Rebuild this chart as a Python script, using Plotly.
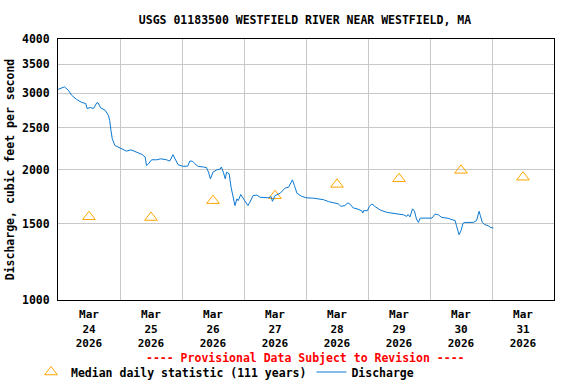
import plotly.graph_objects as go

# Discharge (cfs), 15-min-ish samples
times = [
    "2026-03-24 00:00", "2026-03-24 02:30", "2026-03-24 04:00", "2026-03-24 05:15", "2026-03-24 07:15",
    "2026-03-24 09:15", "2026-03-24 10:45", "2026-03-24 11:15", "2026-03-24 12:30", "2026-03-24 13:45",
    "2026-03-24 15:00", "2026-03-24 15:30", "2026-03-24 16:30", "2026-03-24 18:15", "2026-03-24 19:30",
    "2026-03-24 20:00", "2026-03-24 20:30", "2026-03-24 21:00", "2026-03-24 22:00", "2026-03-24 23:15",
    "2026-03-25 00:45", "2026-03-25 02:30", "2026-03-25 04:15", "2026-03-25 06:30", "2026-03-25 08:30",
    "2026-03-25 09:45", "2026-03-25 10:15", "2026-03-25 11:00", "2026-03-25 12:15", "2026-03-25 14:15",
    "2026-03-25 15:45", "2026-03-25 18:00", "2026-03-25 19:15", "2026-03-25 20:30", "2026-03-25 21:30",
    "2026-03-25 22:30", "2026-03-26 00:30", "2026-03-26 02:15", "2026-03-26 03:00", "2026-03-26 04:00",
    "2026-03-26 05:00", "2026-03-26 06:15", "2026-03-26 08:15", "2026-03-26 09:30", "2026-03-26 10:15",
    "2026-03-26 11:00", "2026-03-26 12:00", "2026-03-26 13:30", "2026-03-26 14:45", "2026-03-26 15:15",
    "2026-03-26 16:00", "2026-03-26 16:45", "2026-03-26 17:15", "2026-03-26 18:15", "2026-03-26 19:00",
    "2026-03-26 19:45", "2026-03-26 20:30", "2026-03-26 21:15", "2026-03-26 21:45", "2026-03-26 22:45",
    "2026-03-26 23:45", "2026-03-27 01:30", "2026-03-27 02:15", "2026-03-27 03:30", "2026-03-27 05:00",
    "2026-03-27 06:15", "2026-03-27 09:30", "2026-03-27 10:30", "2026-03-27 11:00", "2026-03-27 12:00",
    "2026-03-27 14:00", "2026-03-27 16:00", "2026-03-27 17:15", "2026-03-27 18:45", "2026-03-27 19:30",
    "2026-03-27 20:30", "2026-03-27 22:15", "2026-03-28 00:15", "2026-03-28 02:45", "2026-03-28 06:45",
    "2026-03-28 08:45", "2026-03-28 12:30", "2026-03-28 13:30", "2026-03-28 15:00", "2026-03-28 16:15",
    "2026-03-28 17:15", "2026-03-28 18:15", "2026-03-28 19:45", "2026-03-28 21:30", "2026-03-28 22:00",
    "2026-03-28 22:15", "2026-03-28 23:45", "2026-03-29 00:30", "2026-03-29 01:30", "2026-03-29 02:45",
    "2026-03-29 04:45", "2026-03-29 07:15", "2026-03-29 11:00", "2026-03-29 13:45", "2026-03-29 15:00",
    "2026-03-29 15:30", "2026-03-29 16:15", "2026-03-29 17:15", "2026-03-29 18:00", "2026-03-29 18:45",
    "2026-03-29 19:30", "2026-03-29 20:15", "2026-03-30 00:45", "2026-03-30 02:00", "2026-03-30 03:15",
    "2026-03-30 04:30", "2026-03-30 07:00", "2026-03-30 09:45", "2026-03-30 10:15", "2026-03-30 11:15",
    "2026-03-30 12:00", "2026-03-30 12:45", "2026-03-30 13:30", "2026-03-30 16:45", "2026-03-30 18:00",
    "2026-03-30 18:30", "2026-03-30 19:00", "2026-03-30 19:30", "2026-03-30 20:15", "2026-03-30 21:15",
    "2026-03-30 22:30", "2026-03-30 23:30", "2026-03-31 00:30",
]
discharge = [
    3060, 3102, 3047, 2968, 2900,
    2855, 2840, 2765, 2780, 2765,
    2850, 2850, 2775, 2740, 2668,
    2597, 2462, 2356, 2273, 2253,
    2225, 2205, 2220, 2193, 2167,
    2136, 2043, 2060, 2106, 2106,
    2117, 2106, 2091, 2163, 2098,
    2051, 2033, 2037, 2091, 2091,
    2062, 2033, 2027, 2020, 1972,
    1903, 1972, 1997, 2004, 2027,
    1972, 1903, 1972, 1955, 1820,
    1741, 1651, 1711, 1695, 1751,
    1711, 1651, 1680, 1741, 1746,
    1726, 1721, 1731, 1689, 1741,
    1763, 1814, 1820, 1893, 1837,
    1763, 1735, 1720, 1718, 1704,
    1686, 1666, 1645, 1651, 1675,
    1660, 1631, 1623, 1607, 1587,
    1607, 1607, 1642, 1666, 1642,
    1613, 1593, 1579, 1572, 1559,
    1575, 1555, 1623, 1602, 1538,
    1510, 1545, 1545, 1579, 1572,
    1551, 1543, 1524, 1484, 1414,
    1445, 1502, 1510, 1510, 1524,
    1565, 1602, 1565, 1510, 1492,
    1484, 1470, 1466,
]

# Median daily statistic (111 years)
median_days = ["2026-03-24 12:00", "2026-03-25 12:00", "2026-03-26 12:00", "2026-03-27 12:00",
               "2026-03-28 12:00", "2026-03-29 12:00", "2026-03-30 12:00", "2026-03-31 12:00"]
median_vals = [1556, 1550, 1695, 1740, 1848, 1904, 1991, 1920]

y_ticks = [1000, 1500, 2000, 2500, 3000, 3500, 4000]

FONT = "DejaVu Sans Mono"

fig = go.Figure()
fig.add_trace(go.Scatter(
    x=median_days, y=median_vals, mode="markers", name="Median daily statistic (111 years)",
    marker=dict(symbol="triangle-up-open", size=11, color="#FFA500", line=dict(width=1, color="#FFA500")),
))
fig.add_trace(go.Scatter(
    x=times, y=discharge, mode="lines", name="Discharge",
    line=dict(color="#0A78D2", width=1),
))

fig.update_layout(
    width=576, height=384,
    margin=dict(l=58, r=22, t=39, b=84),
    paper_bgcolor="white", plot_bgcolor="white",
    font=dict(family=FONT, size=11.5, color="black", weight="bold"),
    title=dict(text="USGS 01183500 WESTFIELD RIVER NEAR WESTFIELD, MA",
               x=305 / 576, xanchor="center", y=1 - 20 / 384, yanchor="middle", yref="container",
               font=dict(family=FONT, size=11.5, weight="bold")),
    showlegend=True,
    legend=dict(orientation="h", xref="container", yref="container",
                x=31 / 576, y=1 - 372 / 384, xanchor="left", yanchor="middle",
                itemwidth=30, font=dict(family=FONT, size=11.5, weight="bold"),
                bgcolor="rgba(0,0,0,0)", traceorder="normal"),
    annotations=[dict(text="---- Provisional Data Subject to Revision ----",
                      xref="paper", yref="paper", x=0.5 - 1 / 496, y=-(358 - 300) / 261,
                      xanchor="center", yanchor="middle", showarrow=False,
                      font=dict(family=FONT, size=11.5, color="#FF0000", weight="bold"))],
)

fig.update_xaxes(
    type="date", range=["2026-03-24 00:00", "2026-04-01 00:00"],
    dtick=86400000, tick0="2026-03-24", ticklabelmode="period",
    tickformat="%b<br>%d<br>%Y", ticks="", ticklabelstandoff=4, automargin=False,
    showgrid=True, gridcolor="#C8C8C8", gridwidth=1,
    showline=True, linecolor="black", linewidth=1, mirror=True, zeroline=False,
    tickfont=dict(family=FONT, size=11, weight="bold"),
)
fig.update_yaxes(
    type="log", range=[3, 3.60206], autorange=False,
    tickvals=y_ticks, ticktext=[str(v) for v in y_ticks], ticks="", ticklabelstandoff=5,
    automargin=False,
    showgrid=True, gridcolor="#C8C8C8", gridwidth=1,
    showline=True, linecolor="black", linewidth=1, mirror=True, zeroline=False,
    title=dict(text="Discharge, cubic feet per second", standoff=4,
               font=dict(family=FONT, size=11.5, weight="bold")),
    tickfont=dict(family=FONT, size=11.5, weight="bold"),
)

fig.write_html("out.html", config={"displayModeBar": False},
               post_script="document.body.style.margin='0';document.body.style.overflow='hidden';")
